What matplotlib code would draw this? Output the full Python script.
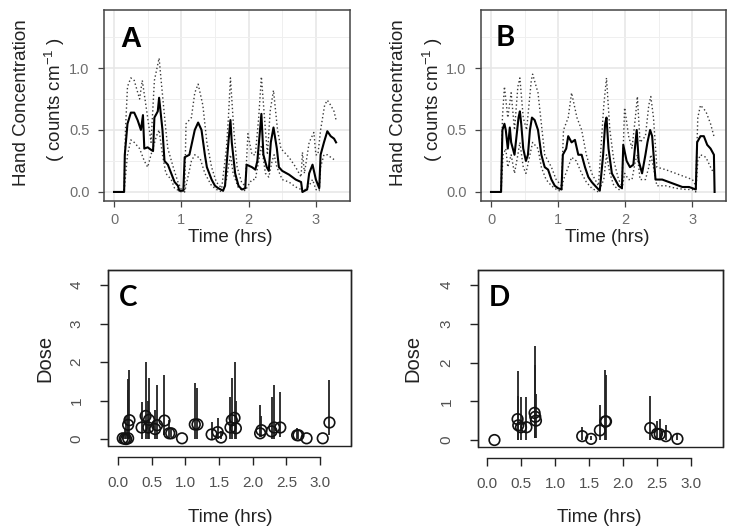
import matplotlib.pyplot as plt
from matplotlib.patches import Rectangle
import numpy as np

# ---- panel A: hand concentration, mean and bounds (time hrs, value)
a_mean = [(0, 0), (0.15, 0), (0.16, 0.3), (0.2, 0.55), (0.25, 0.64), (0.3, 0.64), (0.35, 0.58),
          (0.4, 0.5), (0.43, 0.62), (0.45, 0.35), (0.5, 0.36), (0.55, 0.34), (0.58, 0.33),
          (0.6, 0.6), (0.65, 0.65), (0.67, 0.76), (0.72, 0.5), (0.75, 0.25), (0.8, 0.22),
          (0.85, 0.15), (0.9, 0.08), (0.95, 0.05), (0.97, 0.01), (1.03, 0.01), (1.05, 0.28),
          (1.12, 0.3), (1.2, 0.5), (1.25, 0.56), (1.3, 0.5), (1.35, 0.3), (1.38, 0.2),
          (1.45, 0.1), (1.5, 0.05), (1.55, 0.03), (1.62, 0.01), (1.65, 0.05), (1.67, 0.2),
          (1.7, 0.4), (1.73, 0.58), (1.75, 0.4), (1.8, 0.15), (1.85, 0.05), (1.9, 0.02),
          (1.95, 0.03), (1.97, 0.22), (2.05, 0.2), (2.1, 0.18), (2.13, 0.25), (2.17, 0.5),
          (2.19, 0.63), (2.22, 0.3), (2.27, 0.2), (2.3, 0.17), (2.33, 0.4), (2.37, 0.52),
          (2.42, 0.35), (2.45, 0.2), (2.5, 0.17), (2.6, 0.14), (2.7, 0.1), (2.78, 0.08),
          (2.8, 0.0), (2.87, 0.02), (2.9, 0.15), (2.95, 0.22), (3.0, 0.1), (3.05, 0.03),
          (3.07, 0.3), (3.12, 0.4), (3.17, 0.49), (3.22, 0.45), (3.27, 0.43), (3.3, 0.4)]
a_upper = [(0, 0), (0.15, 0), (0.17, 0.5), (0.2, 0.85), (0.25, 0.92), (0.3, 0.9), (0.38, 0.75),
           (0.42, 0.9), (0.5, 0.6), (0.55, 0.4), (0.6, 0.9), (0.67, 1.08), (0.7, 0.9), (0.77, 0.5),
           (0.8, 0.35), (0.88, 0.2), (0.95, 0.08), (1.0, 0.02), (1.05, 0.02), (1.07, 0.55),
           (1.15, 0.6), (1.2, 0.8), (1.25, 0.87), (1.32, 0.7), (1.38, 0.4), (1.45, 0.2),
           (1.52, 0.08), (1.6, 0.03), (1.67, 0.35), (1.7, 0.6), (1.73, 0.92), (1.78, 0.5),
           (1.83, 0.2), (1.9, 0.07), (1.95, 0.05), (1.99, 0.47), (2.05, 0.3), (2.1, 0.3),
           (2.15, 0.6), (2.19, 0.93), (2.25, 0.5), (2.28, 0.3), (2.32, 0.65), (2.37, 0.82),
           (2.43, 0.5), (2.48, 0.35), (2.6, 0.28), (2.7, 0.2), (2.78, 0.12), (2.8, 0.32),
           (2.83, 0.15), (2.9, 0.4), (2.97, 0.48), (3.0, 0.3), (3.03, 0.3), (3.07, 0.5),
           (3.13, 0.7), (3.17, 0.74), (3.22, 0.7), (3.27, 0.65), (3.3, 0.58)]
a_lower = [(0, 0), (0.15, 0), (0.2, 0.3), (0.25, 0.42), (0.3, 0.4), (0.38, 0.35), (0.45, 0.25),
           (0.5, 0.2), (0.55, 0.3), (0.63, 0.45), (0.67, 0.5), (0.72, 0.3), (0.77, 0.15),
           (0.85, 0.1), (0.9, 0.03), (1.0, 0.0), (1.05, 0.0), (1.07, 0.05), (1.15, 0.25),
           (1.2, 0.3), (1.28, 0.27), (1.35, 0.15), (1.45, 0.05), (1.55, 0.01), (1.62, 0.0),
           (1.67, 0.1), (1.7, 0.2), (1.73, 0.3), (1.77, 0.15), (1.85, 0.03), (1.95, 0.01),
           (1.99, 0.05), (2.05, 0.1), (2.1, 0.1), (2.15, 0.25), (2.19, 0.38), (2.25, 0.15),
           (2.3, 0.12), (2.35, 0.25), (2.38, 0.3), (2.42, 0.2), (2.5, 0.1), (2.6, 0.08),
           (2.7, 0.04), (2.78, 0.02), (2.8, 0.0), (2.9, 0.05), (2.95, 0.1), (3.0, 0.02),
           (3.05, 0.01), (3.07, 0.2), (3.12, 0.3), (3.17, 0.3), (3.22, 0.28), (3.3, 0.25)]

# ---- panel B
b_mean = [(0, 0), (0.15, 0), (0.17, 0.5), (0.2, 0.55), (0.22, 0.5), (0.25, 0.35), (0.28, 0.52),
          (0.3, 0.4), (0.35, 0.3), (0.38, 0.45), (0.41, 0.6), (0.43, 0.65), (0.45, 0.55),
          (0.48, 0.35), (0.52, 0.25), (0.55, 0.3), (0.58, 0.5), (0.61, 0.6), (0.65, 0.58),
          (0.7, 0.5), (0.75, 0.3), (0.8, 0.2), (0.85, 0.18), (0.9, 0.1), (0.95, 0.05),
          (1.0, 0.03), (1.05, 0.02), (1.07, 0.3), (1.12, 0.35), (1.15, 0.45), (1.2, 0.4),
          (1.25, 0.42), (1.3, 0.3), (1.35, 0.3), (1.4, 0.2), (1.45, 0.12), (1.5, 0.08),
          (1.55, 0.05), (1.62, 0.01), (1.67, 0.3), (1.7, 0.55), (1.72, 0.6), (1.75, 0.35),
          (1.8, 0.15), (1.85, 0.1), (1.9, 0.05), (1.95, 0.03), (1.97, 0.38), (2.02, 0.25),
          (2.07, 0.2), (2.12, 0.22), (2.17, 0.5), (2.2, 0.25), (2.25, 0.15), (2.3, 0.3),
          (2.33, 0.4), (2.37, 0.5), (2.4, 0.45), (2.45, 0.1), (2.55, 0.1), (2.65, 0.08),
          (2.75, 0.06), (2.85, 0.04), (2.95, 0.04), (3.05, 0.02), (3.07, 0.4), (3.12, 0.45),
          (3.17, 0.45), (3.22, 0.38), (3.27, 0.35), (3.32, 0.3), (3.33, 0.0)]
b_upper = [(0, 0), (0.15, 0), (0.17, 0.6), (0.2, 0.85), (0.25, 0.6), (0.3, 0.8), (0.35, 0.5),
           (0.4, 0.85), (0.43, 0.92), (0.48, 0.6), (0.53, 0.5), (0.6, 0.9), (0.62, 0.95),
           (0.7, 0.8), (0.75, 0.55), (0.8, 0.3), (0.9, 0.2), (0.97, 0.1), (1.05, 0.05),
           (1.08, 0.5), (1.15, 0.6), (1.2, 0.8), (1.28, 0.6), (1.35, 0.5), (1.42, 0.3),
           (1.5, 0.15), (1.6, 0.05), (1.68, 0.7), (1.72, 0.92), (1.77, 0.5), (1.83, 0.25),
           (1.9, 0.1), (1.95, 0.05), (1.99, 0.68), (2.05, 0.45), (2.1, 0.35), (2.15, 0.6),
           (2.18, 0.77), (2.22, 0.4), (2.3, 0.45), (2.35, 0.7), (2.38, 0.77), (2.42, 0.6),
           (2.47, 0.2), (2.6, 0.18), (2.75, 0.15), (2.9, 0.12), (3.0, 0.1), (3.05, 0.05),
           (3.08, 0.6), (3.12, 0.7), (3.2, 0.65), (3.27, 0.55), (3.32, 0.45)]
b_lower = [(0, 0), (0.15, 0), (0.18, 0.3), (0.22, 0.35), (0.25, 0.2), (0.3, 0.3), (0.35, 0.15),
           (0.4, 0.3), (0.43, 0.4), (0.48, 0.2), (0.52, 0.15), (0.58, 0.3), (0.62, 0.4),
           (0.7, 0.35), (0.75, 0.2), (0.82, 0.1), (0.9, 0.05), (1.0, 0.01), (1.05, 0.01),
           (1.08, 0.1), (1.15, 0.2), (1.2, 0.28), (1.27, 0.25), (1.35, 0.15), (1.42, 0.08),
           (1.5, 0.03), (1.6, 0.0), (1.68, 0.1), (1.72, 0.3), (1.77, 0.15), (1.83, 0.05),
           (1.9, 0.02), (1.95, 0.02), (1.99, 0.15), (2.05, 0.1), (2.1, 0.1), (2.15, 0.25),
           (2.18, 0.3), (2.22, 0.1), (2.3, 0.1), (2.35, 0.2), (2.38, 0.3), (2.42, 0.2),
           (2.47, 0.05), (2.6, 0.05), (2.75, 0.03), (2.9, 0.02), (3.0, 0.02), (3.05, 0.0),
           (3.08, 0.25), (3.12, 0.3), (3.2, 0.28), (3.27, 0.2), (3.32, 0.15)]

# ---- panel C: dose estimates with intervals
c_time = [0.07, 0.10, 0.12, 0.15, 0.15, 0.17, 0.35, 0.41, 0.46, 0.45, 0.55, 0.58, 0.69, 0.76, 0.79,
          0.95, 1.14, 1.18, 1.39, 1.48, 1.53, 1.67, 1.69, 1.73, 1.75, 2.11, 2.13, 2.28, 2.32, 2.41,
          2.66, 2.68, 2.80, 3.04, 3.14]
c_dose = [0.02, 0.01, 0.0, 0.02, 0.37, 0.49, 0.30, 0.60, 0.50, 0.30, 0.26, 0.36, 0.48, 0.15, 0.15,
          0.02, 0.38, 0.38, 0.12, 0.18, 0.04, 0.30, 0.49, 0.55, 0.28, 0.15, 0.23, 0.20, 0.30, 0.30,
          0.10, 0.10, 0.02, 0.02, 0.43]
c_low = [0.0, 0.0, 0.0, 0.0, 0.0, 0.0, 0.0, 0.0, 0.0, 0.0, 0.0, 0.0, 0.1, 0.0, 0.05,
         0.02, 0.0, 0.0, 0.0, 0.0, 0.0, 0.0, 0.0, 0.0, 0.0, 0.05, 0.05, 0.0, 0.0, 0.05,
         0.0, 0.0, 0.02, 0.02, 0.1]
c_high = [0.1, 0.3, 0.6, 1.27, 1.55, 1.79, 0.97, 2.0, 1.58, 1.0, 0.75, 1.4, 1.66, 0.5, 0.3,
          0.02, 1.45, 1.32, 0.45, 0.55, 0.2, 1.1, 1.58, 2.0, 1.0, 0.88, 0.6, 1.1, 1.4, 1.23,
          0.3, 0.2, 0.02, 0.02, 1.53]

# ---- panel D
d_time = [0.11, 0.45, 0.46, 0.50, 0.58, 0.70, 0.71, 0.72, 1.40, 1.53, 1.66, 1.74, 1.75,
          2.40, 2.50, 2.54, 2.63, 2.80]
d_dose = [0.0, 0.54, 0.38, 0.33, 0.33, 0.70, 0.60, 0.50, 0.10, 0.03, 0.25, 0.48, 0.48,
          0.31, 0.16, 0.15, 0.10, 0.03]
d_low = [0.0, 0.0, 0.0, 0.0, 0.0, 0.05, 0.05, 0.05, 0.0, 0.0, 0.0, 0.0, 0.0,
         0.0, 0.0, 0.0, 0.0, 0.0]
d_high = [0.0, 1.77, 1.14, 1.1, 1.1, 2.42, 1.95, 1.2, 0.33, 0.1, 0.9, 1.81, 1.68,
          1.14, 0.5, 0.55, 0.4, 0.15]

W, H = 732, 529
fig = plt.figure(figsize=(W / 100, H / 100), dpi=100)
plt.rcParams['font.family'] = ['Liberation Sans', 'DejaVu Sans']
plt.rcParams['mathtext.fontset'] = 'custom'
plt.rcParams['mathtext.rm'] = 'Liberation Sans'
plt.rcParams['mathtext.it'] = 'Liberation Sans'
narrow = ['Liberation Sans Narrow', 'Liberation Sans']


def box(l, t, r, b):
    return [l / W, 1 - b / H, (r - l) / W, (b - t) / H]


def conc_panel(rect, xlim, mean, upper, lower, letter, letter_font, letter_xy, ylab_x):
    ax = fig.add_axes(rect)
    for s in (upper, lower):
        t, v = zip(*s)
        ax.plot(t, v, color='#3a3a3a', lw=1.0, dashes=(1, 1.8))
    t, v = zip(*mean)
    ax.plot(t, v, color='black', lw=1.5)
    ax.set_xlim(*xlim)
    ax.set_ylim(-0.073, 1.468)
    ax.set_xticks([0, 1, 2, 3])
    ax.set_yticks([0.0, 0.5, 1.0])
    ax.set_yticklabels(['0.0', '0.5', '1.0'])
    ax.set_xticks(np.arange(0.5, 4, 1), minor=True)
    ax.set_yticks([0.25, 0.75, 1.25], minor=True)
    ax.grid(which='major', color='#e6e6e6', lw=1.1)
    ax.grid(which='minor', color='#efefef', lw=0.7)
    ax.set_axisbelow(True)
    ax.tick_params(which='minor', length=0)
    ax.tick_params(which='major', length=4.3, width=0.9, color='#444444',
                   labelcolor='#6e6e6e', labelsize=10.5)
    ax.tick_params(axis='y', pad=6)
    ax.tick_params(axis='x', pad=4)
    for sp in ax.spines.values():
        sp.set_color('#444444')
        sp.set_linewidth(1.1)
    ax.text(letter_xy[0], letter_xy[1], letter, transform=ax.transAxes, fontsize=21,
            fontweight='bold', family=letter_font, va='top', ha='left')
    # axis titles
    x0 = rect[0] + rect[2] / 2
    fig.text(x0 + 0.005, 1 - 237 / H, 'Time (hrs)', ha='center', va='center',
             fontsize=13.5, color='#222222')
    fig.text(ylab_x[0] / W, 1 - 103 / H, 'Hand Concentration', rotation=90,
             ha='center', va='center', fontsize=13.5, color='#222222')
    fig.text(ylab_x[1] / W, 1 - 100 / H, r'( counts cm$^{-1}$ )', rotation=90,
             ha='center', va='center', fontsize=13.5, color='#222222')
    return ax


def dose_panel(rect, xlim, tm, dose, low, high, letter, xlab_x, ylab_x):
    ax = fig.add_axes(rect)
    ax.vlines(tm, low, high, color='#222222', lw=1.3)
    ax.scatter(tm, dose, s=58, facecolors='none', edgecolors='#111111', linewidths=1.2, zorder=3)
    ax.set_xlim(*xlim)
    ax.set_ylim(-0.18, 4.39)
    ax.set_xticks(np.arange(0, 3.01, 0.5))
    ax.set_xticklabels(['0.0', '0.5', '1.0', '1.5', '2.0', '2.5', '3.0'])
    ax.set_yticks([0, 1, 2, 3, 4])
    for sp in ax.spines.values():
        sp.set_color('#222222')
        sp.set_linewidth(1.0)
    ax.spines['bottom'].set_position(('outward', 8))
    ax.spines['bottom'].set_bounds(0, 3)
    ax.add_patch(Rectangle((0, 0), 1, 1, transform=ax.transAxes, fill=False,
                           edgecolor='#222222', lw=1.0, clip_on=False))
    ax.tick_params(length=5.5, width=1.0, color='#222222', labelcolor='#505050', labelsize=11)
    ax.tick_params(axis='x', pad=8)
    ax.tick_params(axis='y', pad=12, labelrotation=90)
    for lab in ax.get_xticklabels() + ax.get_yticklabels():
        lab.set_family(narrow)
    for lab in ax.get_yticklabels():
        lab.set_va('center')
    ax.text(0.045, 0.915, letter, transform=ax.transAxes, fontsize=20,
            fontweight='bold', family=['Lato', 'DejaVu Sans'], va='top', ha='left')
    fig.text(xlab_x / W, 1 - 518 / H, 'Time (hrs)', ha='center', va='center',
             fontsize=13.5, color='#222222')
    fig.text(ylab_x / W, 1 - 358 / H, 'Dose', rotation=90, ha='center', va='center',
             fontsize=14.5, color='#222222')
    return ax


conc_panel(box(104, 10, 350, 201), (-0.149, 3.507), a_mean, a_upper, a_lower,
           'A', ['Liberation Sans', 'DejaVu Sans'], (0.065, 0.92), (22, 55))
conc_panel(box(481, 10, 726, 201), (-0.149, 3.49), b_mean, b_upper, b_lower,
           'B', ['Lato', 'DejaVu Sans'], (0.06, 0.92), (398, 433))
dose_panel(box(108, 270, 351, 446), (-0.149, 3.46), c_time, c_dose, c_low, c_high,
           'C', 230, 45)
dose_panel(box(478, 270, 723, 447), (-0.132, 3.47), d_time, d_dose, d_low, d_high,
           'D', 599, 413)

fig.savefig('out.png', dpi=100)
